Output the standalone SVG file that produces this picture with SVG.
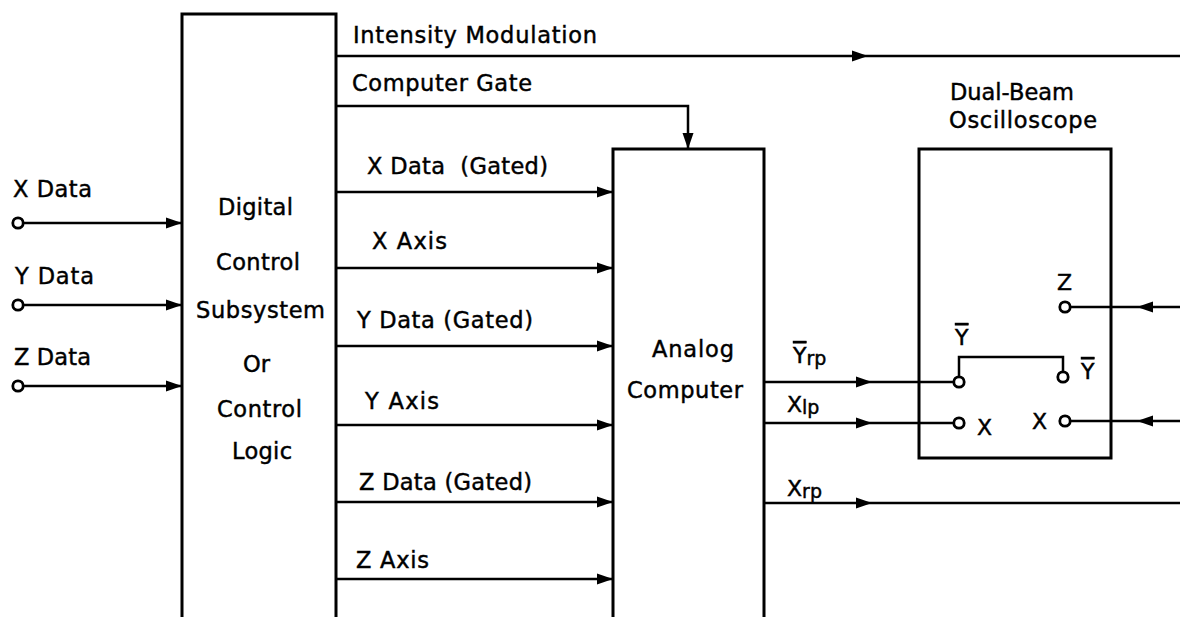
<svg xmlns="http://www.w3.org/2000/svg" xmlns:xlink="http://www.w3.org/1999/xlink" width="1180" height="617" viewBox="0 0 1180 617">
<style>
text{font-family:"DejaVu Sans","Liberation Sans",Arial,sans-serif;font-size:22.5px;fill:#000;stroke:#000;stroke-width:0.45}
.pin{font-size:22px}
.sub{font-size:19px}
.ov{text-decoration:overline}
.box{fill:none;stroke:#000;stroke-width:3;stroke-linejoin:miter}
.ln{fill:none;stroke:#000;stroke-width:2.5}
.term{fill:#fff;stroke:#000;stroke-width:2.8}
.ah{fill:#000;stroke:none}
</style>
<defs>
<path id="ah" d="M0,0 L-16,-5.5 L-16,5.5 Z"/>
</defs>
<rect width="1180" height="617" fill="#fff"/>

<g id="digital">
<path class="box" d="M182,617 V14 H336 V617"/>
<text x="218" y="215" textLength="75">Digital</text>
<text x="216" y="270" textLength="84">Control</text>
<text x="196" y="318" textLength="129">Subsystem</text>
<text x="243" y="372" textLength="27">Or</text>
<text x="217" y="417" textLength="85">Control</text>
<text x="232" y="459" textLength="60">Logic</text>
</g>

<g id="analog">
<path class="box" d="M613,617 V149 H764 V617"/>
<text x="652" y="357" textLength="82">Analog</text>
<text x="627" y="398" textLength="116">Computer</text>
</g>

<g id="oscilloscope">
<rect class="box" x="919" y="149" width="192" height="309"/>
<text x="950" y="100">Dual-Beam</text>
<text x="949" y="128" textLength="148">Oscilloscope</text>
<text class="pin" x="1057" y="290">Z</text>
<text class="pin ov" x="955" y="345">Y</text>
<text class="pin ov" x="1081" y="379">Y</text>
<text class="pin" x="977" y="435">X</text>
<text class="pin" x="1032" y="429">X</text>
<path class="ln" d="M959,377 V357 H1063 V372"/>
<circle class="term" cx="959" cy="382" r="5.2"/>
<circle class="term" cx="1063" cy="377" r="5.2"/>
<circle class="term" cx="959" cy="423" r="5.2"/>
<circle class="term" cx="1065" cy="421" r="5.2"/>
<circle class="term" cx="1065" cy="307" r="5.2"/>
</g>

<g id="inputs">
<text x="13" y="197" textLength="79">X Data</text>
<text x="15" y="284" textLength="79">Y Data</text>
<text x="14" y="365" textLength="77">Z Data</text>
<circle class="term" cx="18" cy="223" r="5.2"/>
<circle class="term" cx="18" cy="305" r="5.2"/>
<circle class="term" cx="18" cy="386" r="5.2"/>
</g>

<g id="connectors">
<line class="ln" x1="23" y1="223" x2="182" y2="223"/>
<line class="ln" x1="23" y1="305" x2="182" y2="305"/>
<line class="ln" x1="23" y1="386" x2="182" y2="386"/>
<use xlink:href="#ah" class="ah" transform="translate(182,223)"/>
<use xlink:href="#ah" class="ah" transform="translate(182,305)"/>
<use xlink:href="#ah" class="ah" transform="translate(182,386)"/>

<line class="ln" x1="336" y1="56" x2="1180" y2="56"/>
<use xlink:href="#ah" class="ah" transform="translate(868,56)"/>
<path class="ln" d="M336,106 H688 V149"/>
<use xlink:href="#ah" class="ah" transform="translate(688,149) rotate(90)"/>
<line class="ln" x1="336" y1="192" x2="613" y2="192"/>
<use xlink:href="#ah" class="ah" transform="translate(613,192)"/>
<line class="ln" x1="336" y1="268" x2="613" y2="268"/>
<use xlink:href="#ah" class="ah" transform="translate(613,268)"/>
<line class="ln" x1="336" y1="346" x2="613" y2="346"/>
<use xlink:href="#ah" class="ah" transform="translate(613,346)"/>
<line class="ln" x1="336" y1="425" x2="613" y2="425"/>
<use xlink:href="#ah" class="ah" transform="translate(613,425)"/>
<line class="ln" x1="336" y1="502" x2="613" y2="502"/>
<use xlink:href="#ah" class="ah" transform="translate(613,502)"/>
<line class="ln" x1="336" y1="579" x2="613" y2="579"/>
<use xlink:href="#ah" class="ah" transform="translate(613,579)"/>

<line class="ln" x1="764" y1="382" x2="954" y2="382"/>
<use xlink:href="#ah" class="ah" transform="translate(872,382)"/>
<line class="ln" x1="764" y1="423" x2="954" y2="423"/>
<use xlink:href="#ah" class="ah" transform="translate(872,423)"/>
<line class="ln" x1="764" y1="503" x2="1180" y2="503"/>
<use xlink:href="#ah" class="ah" transform="translate(872,503)"/>

<line class="ln" x1="1070" y1="307" x2="1180" y2="307"/>
<use xlink:href="#ah" class="ah" transform="translate(1137,307) rotate(180)"/>
<line class="ln" x1="1070" y1="421" x2="1180" y2="421"/>
<use xlink:href="#ah" class="ah" transform="translate(1137,421) rotate(180)"/>

<text x="353" y="43" textLength="244">Intensity Modulation</text>
<text x="352" y="91" textLength="180">Computer Gate</text>
<text x="367" y="174" textLength="181" xml:space="preserve">X Data  (Gated)</text>
<text x="372" y="249" textLength="75">X Axis</text>
<text x="357" y="328" textLength="176">Y Data (Gated)</text>
<text x="365" y="409" textLength="74">Y Axis</text>
<text x="359" y="490" textLength="173">Z Data (Gated)</text>
<text x="356" y="568" textLength="73">Z Axis</text>

<text class="pin" x="793" y="363"><tspan class="ov">Y</tspan><tspan class="sub" dy="2">rp</tspan></text>
<text class="pin" x="787" y="412">X<tspan class="sub" dy="2">lp</tspan></text>
<text class="pin" x="787" y="496">X<tspan class="sub" dy="2">rp</tspan></text>
</g>
</svg>
